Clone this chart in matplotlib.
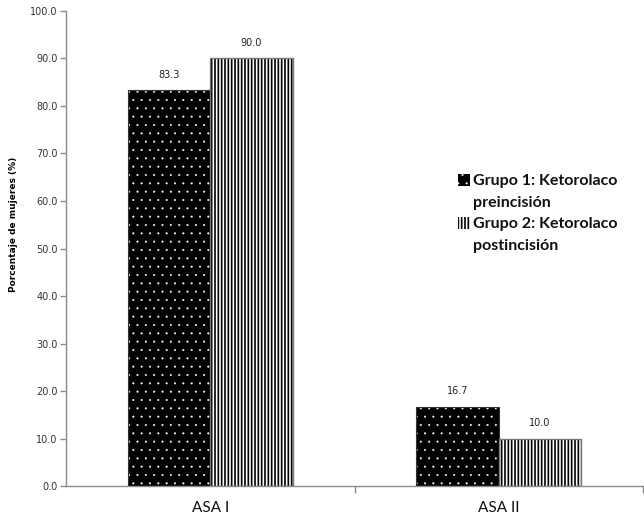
import matplotlib
matplotlib.use("Agg")
import matplotlib.pyplot as plt
from matplotlib.patches import Rectangle
import numpy as np

categories = ["ASA I", "ASA II"]
series_names = ["Grupo 1: Ketorolaco\npreincisión", "Grupo 2: Ketorolaco\npostincisión"]
grupo1 = [83.3, 16.7]
grupo2 = [90.0, 10.0]
y_ticks = [0, 10, 20, 30, 40, 50, 60, 70, 80, 90, 100]

axis_gray = "#8c8c8c"

fig = plt.figure(figsize=(6.44, 5.23), dpi=100)
ax = fig.add_axes([0.1025, 0.0707, 0.8960, 0.9083])

x = np.arange(len(categories))
w = 0.286


def thin_hatch(patches, lw):
    for p in patches:
        if hasattr(p, "set_hatch_linewidth"):
            p.set_hatch_linewidth(lw)


styles = [
    dict(facecolor="black", edgecolor="white", hatch="..", hlw=0.25,
         outline="#333333", olw=0.8),
    dict(facecolor="white", edgecolor="black", hatch="|||||", hlw=1.2,
         outline="#777777", olw=1.0),
]

series = [grupo1, grupo2]
offsets = [-w / 2, w / 2]
for vals, off, st in zip(series, offsets, styles):
    with plt.rc_context({"hatch.linewidth": st["hlw"]}):
        bars = ax.bar(x + off, vals, w, facecolor=st["facecolor"],
                      edgecolor=st["edgecolor"], hatch=st["hatch"],
                      linewidth=0, zorder=2)
    thin_hatch(bars, st["hlw"])
    ax.bar(x + off, vals, w, facecolor="none", edgecolor=st["outline"],
           linewidth=st["olw"], zorder=3)
    for xi, v in zip(x + off, vals):
        ax.text(xi, v + 2.2, f"{v:.1f}", ha="center", va="bottom",
                fontsize=7, color="#222222", family="DejaVu Sans")

ax.set_xlim(-0.5, 1.5)
ax.set_ylim(0, 100)
ax.set_yticks(y_ticks)
ax.set_yticklabels([f"{t:.1f}" for t in y_ticks], fontsize=7,
                   family="DejaVu Sans", color="#333333")
ax.set_xticks([0.5, 1.5])
ax.set_xticklabels([])
ax.set_xticks(x, minor=True)
ax.set_xticklabels(categories, minor=True, fontsize=11, family="Lato",
                   color="#111111")
ax.tick_params(axis="x", which="minor", length=0, pad=11)
ax.tick_params(axis="x", which="major", length=5, color=axis_gray, width=1)
ax.tick_params(axis="y", length=4, color=axis_gray, width=1, pad=2)

for side in ["top", "right"]:
    ax.spines[side].set_visible(False)
for side in ["left", "bottom"]:
    ax.spines[side].set_color(axis_gray)
    ax.spines[side].set_linewidth(1.0)

ax.set_ylabel("Porcentaje de mujeres (%)", fontsize=6.5, fontweight="bold",
              family="DejaVu Sans")
ax.yaxis.set_label_coords(-0.083, 0.55)

# legend: swatch beside the first line of each two-line label
legend_rows = [0.6673, 0.5851]
for name, top, st in zip(series_names, legend_rows, styles):
    with plt.rc_context({"hatch.linewidth": st["hlw"]}):
        sw = Rectangle((0.7112, top - 0.0229), 0.0186, 0.0229,
                       transform=fig.transFigure, facecolor=st["facecolor"],
                       edgecolor=st["edgecolor"], hatch=st["hatch"],
                       linewidth=0)
    thin_hatch([sw], st["hlw"])
    fig.add_artist(sw)
    fig.text(0.7345, top, name, ha="left", va="top", family="Lato",
             fontweight="bold", fontsize=11.5, linespacing=1.75,
             color="#111111")

fig.savefig("out.png", dpi=100)
